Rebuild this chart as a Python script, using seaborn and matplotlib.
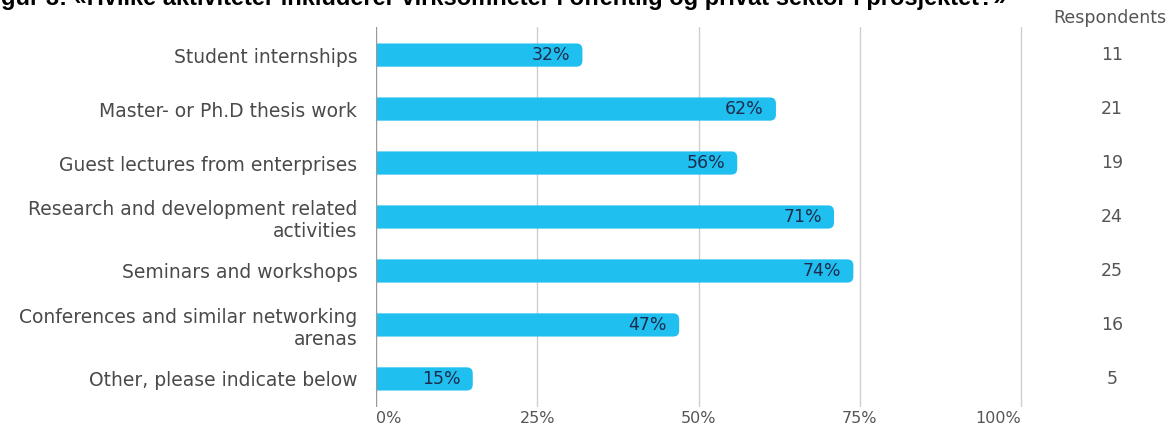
import matplotlib
matplotlib.use("Agg")
import matplotlib.pyplot as plt
import pandas as pd
import seaborn as sns
from matplotlib import transforms
from matplotlib.patches import FancyBboxPatch

# ---- data -----------------------------------------------------------------
categories = [
    "Student internships",
    "Master- or Ph.D thesis work",
    "Guest lectures from enterprises",
    "Research and development related\nactivities",
    "Seminars and workshops",
    "Conferences and similar networking\narenas",
    "Other, please indicate below",
]
shares = [32, 62, 56, 71, 74, 47, 15]
respondents = [11, 21, 19, 24, 25, 16, 5]
x_ticks = [0, 25, 50, 75, 100]
title = ("Figur 3: «Hvilke aktiviteter inkluderer virksomheter i offentlig "
         "og privat sektor i prosjektet?»")

# ---- style ----------------------------------------------------------------
BAR = "#1fbff0"
GRID = "#cfcfcf"
AXIS = "#9a9a9a"
LABEL = "#4a4a4a"
VALUE = "#1d2c4c"

sns.set_theme(style="white")
plt.rcParams["font.family"] = ["DejaVu Sans"]

W, H = 1176, 430
fig = plt.figure(figsize=(W / 100, H / 100), dpi=100)
fig.patch.set_facecolor("white")
ax = fig.add_axes([376 / W, 1 - 407 / H, (1023 - 376) / W, 380 / H])

df = pd.DataFrame({"category": categories, "share": shares})
sns.barplot(data=df, x="share", y="category", orient="h", color=BAR,
            saturation=1, width=0.43, ax=ax)

ax.set_xlim(0, 100.3)
ax.set_ylim(6.52, -0.52)

# swap the square bars for bars with a rounded right end
px_x = ax.bbox.width / 100.3
px_y = ax.bbox.height / 7.04
r_px = 6
r = r_px / px_x
aspect = (r_px / px_y) / r
for p in list(ax.patches):
    x0, y0, w, h = p.get_x(), p.get_y(), p.get_width(), p.get_height()
    p.remove()
    ax.add_patch(FancyBboxPatch(
        (x0 - 2 * r, y0), w + 2 * r, h,
        boxstyle=f"round,pad=0,rounding_size={r}",
        mutation_aspect=aspect, fc=BAR, ec="none", zorder=2))

# value labels inside the bar ends
pad = 12 / px_x
for i, v in enumerate(shares):
    ax.text(v - pad, i, f"{v}%", ha="right", va="center",
            color=VALUE, fontsize=12.5, zorder=4)

# grid and axes
ax.set_xticks(x_ticks)
ax.set_xticklabels([f"{t}%" for t in x_ticks])
ax.grid(axis="x", color=GRID, lw=1)
ax.grid(axis="y", visible=False)
ax.set_axisbelow(True)
ax.axvline(0, color=AXIS, lw=1.6, zorder=3)
for s in ax.spines.values():
    s.set_visible(False)
ax.set_xlabel("")
ax.set_ylabel("")
ax.tick_params(axis="x", length=0, pad=3, labelsize=11.5, labelcolor="#555555")
ax.tick_params(axis="y", length=0, pad=13.5, labelsize=13.5, labelcolor=LABEL)
xt = ax.get_xticklabels()
xt[0].set_ha("left")
xt[-1].set_ha("right")

# respondents column
trans = transforms.blended_transform_factory(fig.transFigure, ax.transData)
for i, n in enumerate(respondents):
    ax.text(1112 / W, i, str(n), transform=trans, ha="center", va="center",
            fontsize=12.5, color="#555555", clip_on=False)
fig.text(1110 / W, 1 - 18 / H, "Respondents", ha="center", va="center",
         fontsize=12.5, color="#555555")

# heading, partly outside the canvas
fig.text(1007 / W, 1 - 5 / H, title, ha="right", va="baseline",
         fontsize=17, fontweight="bold", color="black",
         family=["Liberation Sans", "DejaVu Sans"])

fig.savefig("out.png", dpi=100, facecolor="white")
